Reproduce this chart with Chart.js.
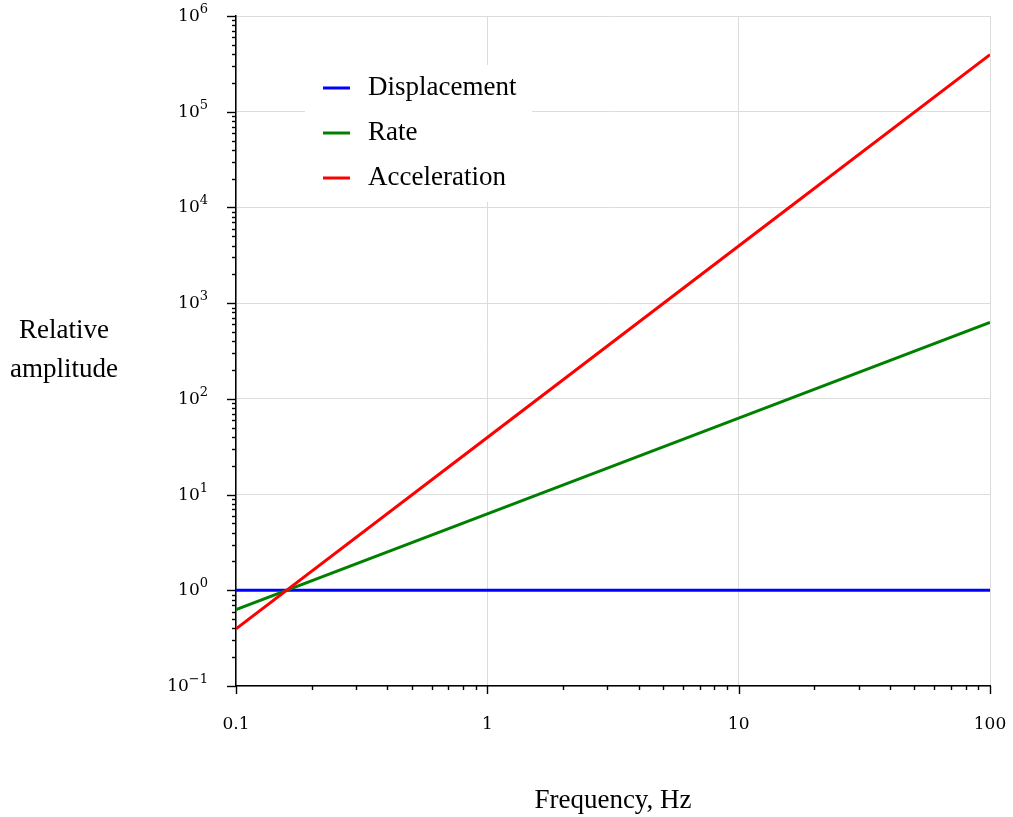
<!DOCTYPE html>
<html>
<head>
<meta charset="utf-8">
<script src="https://cdn.jsdelivr.net/npm/chart.js@4.4.1/dist/chart.umd.min.js"></script>
<style>
  html, body { margin: 0; padding: 0; background: #fff; }
  #wrap { width: 1013px; height: 817px; }
</style>
</head>
<body>
<div id="wrap"><canvas id="ampChart" width="1013" height="817"></canvas></div>
<script>
// frequency points (Hz) and relative amplitudes
const frequencies = [0.1, 1, 10, 100];
const displacement = [1, 1, 1, 1];
const rate = [0.628, 6.28, 62.8, 628];
const acceleration = [0.395, 39.5, 3950, 395000];

const seriesNames = ['Displacement', 'Rate', 'Acceleration'];
const seriesColors = ['#0000ff', '#008000', '#ff0000'];

const xTickValues = [0.1, 1, 10, 100];
const xTickLabels = ['0.1', '1', '10', '100'];
const yTickValues = [0.1, 1, 10, 100, 1000, 10000, 100000, 1000000];
const yTickExponents = ['\u22121', '0', '1', '2', '3', '4', '5', '6'];

const serif = '"Liberation Serif", "Times New Roman", serif';
const tickFont = '"DejaVu Serif", serif';

function points(ys) {
    return frequencies.map((f, i) => ({ x: f, y: ys[i] }));
}

// ticks, tick labels, axis titles and the legend box
const overlay = {
    id: 'overlay',
    beforeDatasetsDraw(chart) {
        const ctx = chart.ctx;
        ctx.save();
        ctx.fillStyle = '#fff';
        ctx.fillRect(305, 65, 227, 137);
        const rowY = [88, 133, 178];
        seriesNames.forEach((name, i) => {
            ctx.strokeStyle = seriesColors[i];
            ctx.lineWidth = 3;
            ctx.beginPath();
            ctx.moveTo(323, rowY[i]);
            ctx.lineTo(350, rowY[i]);
            ctx.stroke();
            ctx.fillStyle = '#000';
            ctx.font = '27px ' + serif;
            ctx.textAlign = 'left';
            ctx.textBaseline = 'middle';
            ctx.fillText(name, 368, rowY[i]);
        });
        ctx.restore();
    },
    afterDraw(chart) {
        const { ctx, chartArea: a, scales: { x, y } } = chart;
        ctx.save();
        ctx.strokeStyle = '#000';
        ctx.lineWidth = 1.4;
        // x ticks
        xTickValues.forEach((v, i) => {
            const px = Math.round(x.getPixelForValue(v)) + 0.5;
            ctx.beginPath(); ctx.moveTo(px, a.bottom); ctx.lineTo(px, a.bottom + 8); ctx.stroke();
            if (i < xTickValues.length - 1) {
                for (let m = 2; m <= 9; m++) {
                    const mx = Math.round(x.getPixelForValue(v * m)) + 0.5;
                    ctx.beginPath(); ctx.moveTo(mx, a.bottom); ctx.lineTo(mx, a.bottom + 4); ctx.stroke();
                }
            }
        });
        // y ticks
        yTickValues.forEach((v, i) => {
            const py = Math.round(y.getPixelForValue(v)) + 0.5;
            ctx.beginPath(); ctx.moveTo(a.left - 9, py); ctx.lineTo(a.left, py); ctx.stroke();
            if (i < yTickValues.length - 1) {
                for (let m = 2; m <= 9; m++) {
                    const my = Math.round(y.getPixelForValue(v * m)) + 0.5;
                    ctx.beginPath(); ctx.moveTo(a.left - 4, my); ctx.lineTo(a.left, my); ctx.stroke();
                }
            }
        });
        // x tick labels
        ctx.fillStyle = '#000';
        ctx.font = '17px ' + tickFont;
        ctx.textAlign = 'center';
        ctx.textBaseline = 'alphabetic';
        xTickValues.forEach((v, i) => {
            ctx.fillText(xTickLabels[i], x.getPixelForValue(v), a.bottom + 43);
        });
        // y tick labels: 10 with a raised exponent
        yTickValues.forEach((v, i) => {
            const py = y.getPixelForValue(v);
            ctx.font = '13px ' + tickFont;
            const ew = ctx.measureText(yTickExponents[i]).width;
            ctx.textAlign = 'right';
            ctx.fillText(yTickExponents[i], 208, py - 3);
            ctx.font = '17px ' + tickFont;
            ctx.fillText('10', 208 - ew, py + 5);
        });
        // axis titles
        ctx.font = '27px ' + serif;
        ctx.textAlign = 'center';
        ctx.fillText('Relative', 64, 338);
        ctx.fillText('amplitude', 64, 377);
        ctx.fillText('Frequency, Hz', (a.left + a.right) / 2, 808);
        ctx.restore();
    }
};

const ctx = document.getElementById('ampChart').getContext('2d');
const ampChart = new Chart(ctx, {
    type: 'line',
    data: {
        datasets: [
            { label: 'Displacement', data: points(displacement), borderColor: seriesColors[0], order: 2 },
            { label: 'Rate', data: points(rate), borderColor: seriesColors[1], order: 1 },
            { label: 'Acceleration', data: points(acceleration), borderColor: seriesColors[2], order: 0 }
        ]
    },
    options: {
        responsive: false,
        animation: false,
        layout: { padding: { left: 0, top: 16, right: 23, bottom: 0 } },
        elements: {
            line: { borderWidth: 3, tension: 0 },
            point: { radius: 0 }
        },
        plugins: { legend: { display: false }, tooltip: { enabled: false } },
        scales: {
            x: {
                type: 'logarithmic',
                min: 0.1,
                max: 100,
                afterBuildTicks: (s) => { s.ticks = xTickValues.map(v => ({ value: v })); },
                afterFit: (s) => { s.height = 131; },
                ticks: { display: false },
                grid: { color: '#dcdcdc', lineWidth: 1, drawTicks: false },
                border: { color: '#000', width: 1.5 }
            },
            y: {
                type: 'logarithmic',
                min: 0.1,
                max: 1000000,
                afterBuildTicks: (s) => { s.ticks = yTickValues.map(v => ({ value: v })); },
                afterFit: (s) => { s.width = 236; },
                ticks: { display: false },
                grid: { color: '#dcdcdc', lineWidth: 1, drawTicks: false },
                border: { color: '#000', width: 1.5 }
            }
        }
    },
    plugins: [overlay]
});
</script>
</body>
</html>
